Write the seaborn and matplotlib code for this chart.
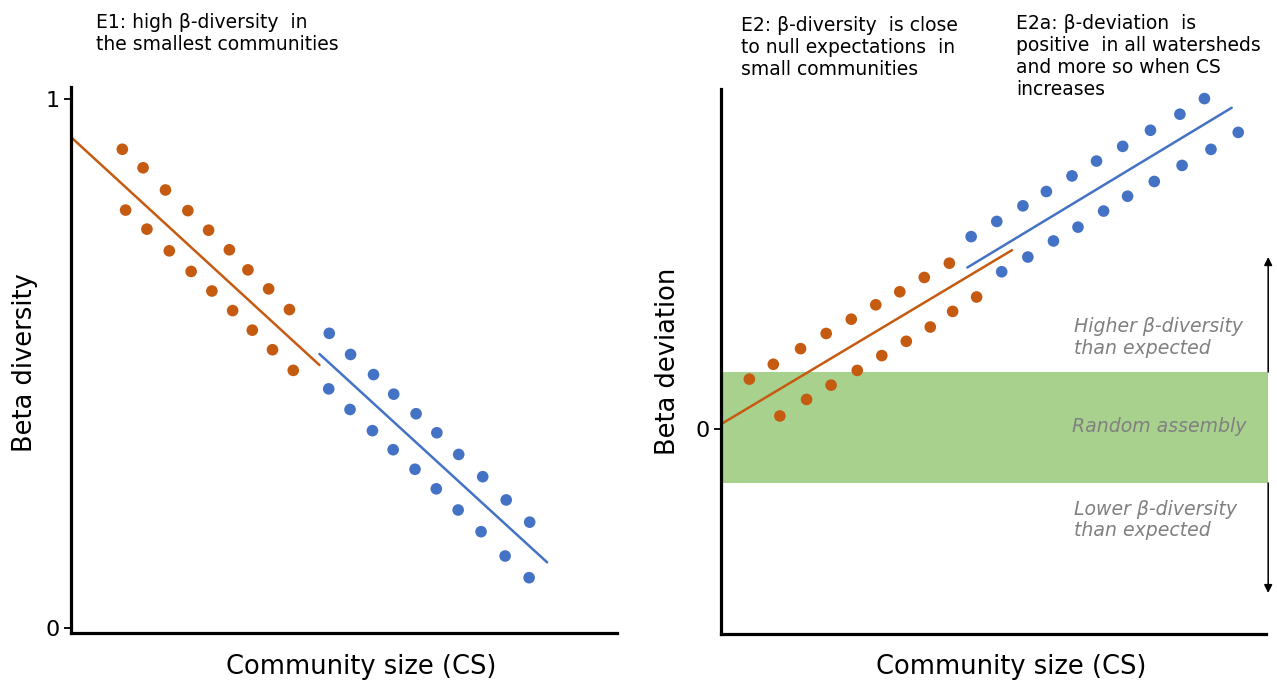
import matplotlib

matplotlib.use("Agg")

import matplotlib.pyplot as plt
import pandas as pd
import seaborn as sns

# ---- data (arbitrary community-size units, 0..10 on the x axis) ----
# E1 panel: beta diversity, small (orange) and large (blue) communities
e1_small_x = [0.94, 1.32, 1.73, 2.14, 2.52, 2.90, 3.24, 3.62, 4.00,
              1.00, 1.39, 1.80, 2.20, 2.58, 2.96, 3.32, 3.69, 4.07]
e1_small_y = [0.905, 0.870, 0.828, 0.789, 0.752, 0.715, 0.677, 0.641, 0.602,
              0.790, 0.754, 0.713, 0.674, 0.637, 0.600, 0.563, 0.526, 0.487]
e1_large_x = [4.73, 5.12, 5.54, 5.91, 6.32, 6.70, 7.10, 7.54, 7.97, 8.40,
              4.72, 5.11, 5.52, 5.90, 6.30, 6.69, 7.09, 7.51, 7.95, 8.39]
e1_large_y = [0.557, 0.517, 0.479, 0.442, 0.405, 0.369, 0.328, 0.286, 0.242, 0.200,
              0.452, 0.413, 0.373, 0.337, 0.300, 0.263, 0.223, 0.182, 0.136, 0.095]
e1_small_line_x = [0.0, 4.55]
e1_small_line_y = [0.928, 0.497]
e1_large_line_x = [4.55, 8.72]
e1_large_line_y = [0.518, 0.124]

# E2 panel: beta deviation
e2_small_x = [0.52, 0.96, 1.46, 1.93, 2.39, 2.84, 3.28, 3.73, 4.19,
              1.08, 1.57, 2.02, 2.50, 2.95, 3.40, 3.84, 4.25, 4.69]
e2_small_y = [0.447, 0.580, 0.720, 0.856, 0.984, 1.113, 1.230, 1.358, 1.486,
              0.117, 0.265, 0.393, 0.525, 0.658, 0.786, 0.914, 1.054, 1.183]
e2_large_x = [4.59, 5.06, 5.54, 5.97, 6.44, 6.89, 7.37, 7.88, 8.42, 8.87,
              5.15, 5.63, 6.10, 6.55, 7.02, 7.46, 7.95, 8.46, 8.99, 9.49]
e2_large_y = [1.724, 1.860, 2.000, 2.128, 2.268, 2.401, 2.533, 2.677, 2.821, 2.961,
              1.409, 1.541, 1.685, 1.809, 1.953, 2.086, 2.218, 2.362, 2.506, 2.658]
e2_small_line_x = [0.0, 5.34]
e2_small_line_y = [0.043, 1.603]
e2_large_line_x = [4.52, 9.37]
e2_large_line_y = [1.447, 2.879]

null_band_x = [0.0, 10.04]
null_band_low = -0.484
null_band_high = 0.511
arrow_x = 10.04
arrow_up_tip = 1.541
arrow_down_tip = -1.470

ORANGE = "#C55A11"
BLUE = "#4472C4"
GREEN = "#A9D18E"
GREY = "#808080"

sns.set_style("white")
plt.rcParams["font.family"] = ["DejaVu Sans"]


def _points_frame(small_x, small_y, large_x, large_y):
    """Stack the two community groups into one long table for seaborn."""
    small = pd.DataFrame({"cs": small_x, "value": small_y, "group": "small"})
    large = pd.DataFrame({"cs": large_x, "value": large_y, "group": "large"})
    return pd.concat([small, large], ignore_index=True)


def _style_axis(axis, ylim, yticks):
    axis.set_xlim(0, 10)
    axis.set_ylim(*ylim)
    axis.set_xticks([])
    axis.set_yticks(yticks)
    axis.set_yticklabels([str(t) for t in yticks], fontsize=16, color="black")
    axis.tick_params(axis="y", direction="out", length=5, width=1.3, pad=3,
                     left=True, color="black")
    for side in ("top", "right"):
        axis.spines[side].set_visible(False)
    for side in ("left", "bottom"):
        axis.spines[side].set_linewidth(2.3)
        axis.spines[side].set_color("black")


figure = plt.figure(figsize=(12.77, 6.84), dpi=100)
left_axis = figure.add_axes([0.0556, 0.0746, 0.4276, 0.7982])
right_axis = figure.add_axes([0.5646, 0.0731, 0.4268, 0.7968])

palette = {"small": ORANGE, "large": BLUE}
label_style = dict(fontsize=18.5, va="center", color="black")

# ---- E1 ----
e1_points = _points_frame(e1_small_x, e1_small_y, e1_large_x, e1_large_y)
sns.scatterplot(data=e1_points, x="cs", y="value", hue="group", palette=palette,
                s=70, linewidth=0, ax=left_axis, legend=False, zorder=3)
sns.lineplot(x=e1_small_line_x, y=e1_small_line_y, color=ORANGE, lw=1.8,
             ax=left_axis)
sns.lineplot(x=e1_large_line_x, y=e1_large_line_y, color=BLUE, lw=1.8,
             ax=left_axis)
_style_axis(left_axis, (-0.0095, 1.0227), [0, 1])
left_axis.set_xlabel("Community size (CS)", **label_style)
left_axis.set_ylabel("Beta diversity", **label_style)
left_axis.xaxis.set_label_coords(0.531, -0.062)
left_axis.yaxis.set_label_coords(-0.084, 0.496)

# ---- E2 ----
right_axis.fill_between(null_band_x, null_band_low, null_band_high, color=GREEN,
                        lw=0, zorder=0, clip_on=False)
e2_points = _points_frame(e2_small_x, e2_small_y, e2_large_x, e2_large_y)
sns.scatterplot(data=e2_points, x="cs", y="value", hue="group", palette=palette,
                s=70, linewidth=0, ax=right_axis, legend=False, zorder=3)
sns.lineplot(x=e2_small_line_x, y=e2_small_line_y, color=ORANGE, lw=1.8,
             ax=right_axis)
sns.lineplot(x=e2_large_line_x, y=e2_large_line_y, color=BLUE, lw=1.8,
             ax=right_axis)
_style_axis(right_axis, (-1.837, 3.047), [0])
right_axis.set_xlabel("Community size (CS)", **label_style)
right_axis.set_ylabel("Beta deviation", **label_style)
right_axis.xaxis.set_label_coords(0.532, -0.060)
right_axis.yaxis.set_label_coords(-0.097, 0.500)

arrow_style = dict(arrowstyle="-|>", color="black", lw=1.1, mutation_scale=12,
                   shrinkA=0, shrinkB=0)
right_axis.annotate("", xy=(arrow_x, arrow_up_tip),
                    xytext=(arrow_x, null_band_high), arrowprops=arrow_style,
                    annotation_clip=False)
right_axis.annotate("", xy=(arrow_x, arrow_down_tip),
                    xytext=(arrow_x, null_band_low), arrowprops=arrow_style,
                    annotation_clip=False)

note_style = dict(fontsize=13.6, color=GREY, style="italic", ha="left",
                  va="center", linespacing=1.15)
right_axis.text(6.48, 0.82, "Higher β-diversity\nthan expected", **note_style)
right_axis.text(6.44, 0.018, "Random assembly", **note_style)
right_axis.text(6.48, -0.815, "Lower β-diversity\nthan expected", **note_style)

# ---- expectation headers ----
header_style = dict(fontsize=13.5, color="black", ha="left", va="top")
figure.text(0.0752, 0.981, "E1: high β-diversity  in\nthe smallest communities",
            linespacing=1.17, **header_style)
figure.text(0.580, 0.976,
            "E2: β-diversity  is close\nto null expectations  in\nsmall communities",
            linespacing=1.2, **header_style)
figure.text(0.796, 0.979,
            "E2a: β-deviation  is\npositive  in all watersheds\nand more so when CS\nincreases",
            linespacing=1.2, **header_style)

figure.savefig("out.png", dpi=100)
plt.close(figure)
